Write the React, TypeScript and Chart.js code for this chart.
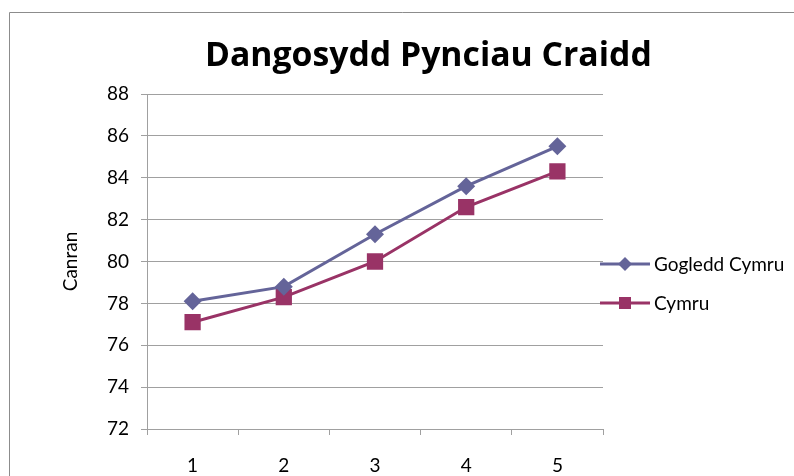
import React, { useEffect, useRef } from "react";
import { Chart, registerables } from "chart.js";

Chart.register(...registerables);

const TITLE = "Dangosydd Pynciau Craidd";
const Y_TITLE = "Canran";
const categories = ["1", "2", "3", "4", "5"];
const goglerddCymru = [78.1, 78.8, 81.3, 83.6, 85.5];
const cymru = [77.1, 78.3, 80.0, 82.6, 84.3];
const seriesNames = ["Gogledd Cymru", "Cymru"];
const Y_MIN = 72;
const Y_MAX = 88;
const Y_STEP = 2;

const FONT = "Lato, 'Open Sans', sans-serif";
const GRID = "#a0a0a0";
const C1 = "#646499";
const C2 = "#993366";

const decorPlugin = {
  id: "decor",
  beforeDraw(chart: any) {
    const ctx = chart.ctx;
    ctx.save();
    ctx.fillStyle = "#ffffff";
    ctx.fillRect(0, 0, chart.width, chart.height);
    ctx.strokeStyle = "#8c8c8c";
    ctx.lineWidth = 1;
    ctx.beginPath();
    ctx.moveTo(9.5, chart.height + 5);
    ctx.lineTo(9.5, 12.5);
    ctx.lineTo(chart.width + 5, 12.5);
    ctx.stroke();
    ctx.restore();
  },
  afterDraw(chart: any) {
    const ctx = chart.ctx;
    const area = chart.chartArea;
    ctx.save();
    // Title
    ctx.fillStyle = "#000000";
    let size = 33;
    ctx.font = `bold ${size}px 'Open Sans', sans-serif`;
    const w = ctx.measureText(TITLE).width;
    size = size * (447 / w);
    ctx.font = `bold ${size}px 'Open Sans', sans-serif`;
    ctx.textAlign = "left";
    ctx.textBaseline = "alphabetic";
    ctx.fillText(TITLE, 205, 66);
    // Y title
    ctx.font = `19px ${FONT}`;
    ctx.translate(71, (area.top + area.bottom) / 2);
    ctx.rotate(-Math.PI / 2);
    ctx.textAlign = "center";
    ctx.textBaseline = "middle";
    ctx.fillText(Y_TITLE, 0, 0);
    ctx.restore();

    // Legend
    ctx.save();
    const ys = [264, 303];
    chart.data.datasets.forEach((ds: any, i: number) => {
      const y = ys[i];
      ctx.strokeStyle = ds.borderColor;
      ctx.lineWidth = 3;
      ctx.beginPath();
      ctx.moveTo(600, y);
      ctx.lineTo(650, y);
      ctx.stroke();
      ctx.fillStyle = ds.backgroundColor;
      ctx.beginPath();
      if (ds.pointStyle === "rectRot") {
        const r = 7;
        ctx.moveTo(625, y - r);
        ctx.lineTo(625 + r, y);
        ctx.lineTo(625, y + r);
        ctx.lineTo(625 - r, y);
        ctx.closePath();
      } else {
        ctx.rect(625 - 6, y - 6, 12, 12);
      }
      ctx.fill();
      ctx.fillStyle = "#000000";
      ctx.font = `19px ${FONT}`;
      ctx.textAlign = "left";
      ctx.textBaseline = "middle";
      ctx.fillText(ds.label, 654, y + 1);
    });
    ctx.restore();
  },
};

export default function App() {
  const ref = useRef<HTMLCanvasElement | null>(null);
  useEffect(() => {
    if (!ref.current) return;
    const chart = new Chart(ref.current, {
      type: "line",
      data: {
        labels: categories,
        datasets: [
          {
            label: seriesNames[0],
            data: goglerddCymru,
            borderColor: C1,
            backgroundColor: C1,
            borderWidth: 3,
            pointStyle: "rectRot",
            pointRadius: 9,
            pointBorderWidth: 0,
            pointHoverRadius: 9,
            tension: 0,
          },
          {
            label: seriesNames[1],
            data: cymru,
            borderColor: C2,
            backgroundColor: C2,
            borderWidth: 3,
            pointStyle: "rect",
            pointRadius: 11.5,
            pointBorderWidth: 0,
            pointHoverRadius: 11.5,
            tension: 0,
          },
        ],
      },
      options: {
        animation: false,
        responsive: false,
        events: [],
        layout: { padding: { top: 94, right: 191, bottom: 0, left: 0 } },
        plugins: {
          legend: { display: false },
          title: { display: false },
          tooltip: { enabled: false },
        },
        scales: {
          x: {
            type: "category",
            offset: true,
            grid: {
              offset: true,
              drawOnChartArea: false,
              drawTicks: true,
              tickLength: 6,
              color: GRID,
            },
            border: { display: true, color: GRID, width: 1 },
            ticks: {
              color: "#000000",
              font: { family: FONT, size: 19 },
              padding: 19,
              maxRotation: 0,
            },
            afterFit(scale: any) {
              scale.height = 47;
            },
          },
          y: {
            min: Y_MIN,
            max: Y_MAX,
            grid: {
              color: GRID,
              drawTicks: true,
              tickLength: 6,
            },
            border: { display: true, color: GRID, width: 1 },
            ticks: {
              stepSize: Y_STEP,
              color: "#000000",
              font: { family: FONT, size: 19 },
              padding: 12,
            },
            afterFit(scale: any) {
              scale.width = 147;
            },
          },
        },
      },
      plugins: [decorPlugin],
    });
    return () => chart.destroy();
  }, []);
  return (
    <div style={{ position: "absolute", left: 0, top: 0, width: 794, height: 476, background: "#fff" }}>
      <canvas ref={ref} width={794} height={476} style={{ display: "block", width: 794, height: 476 }} />
    </div>
  );
}
